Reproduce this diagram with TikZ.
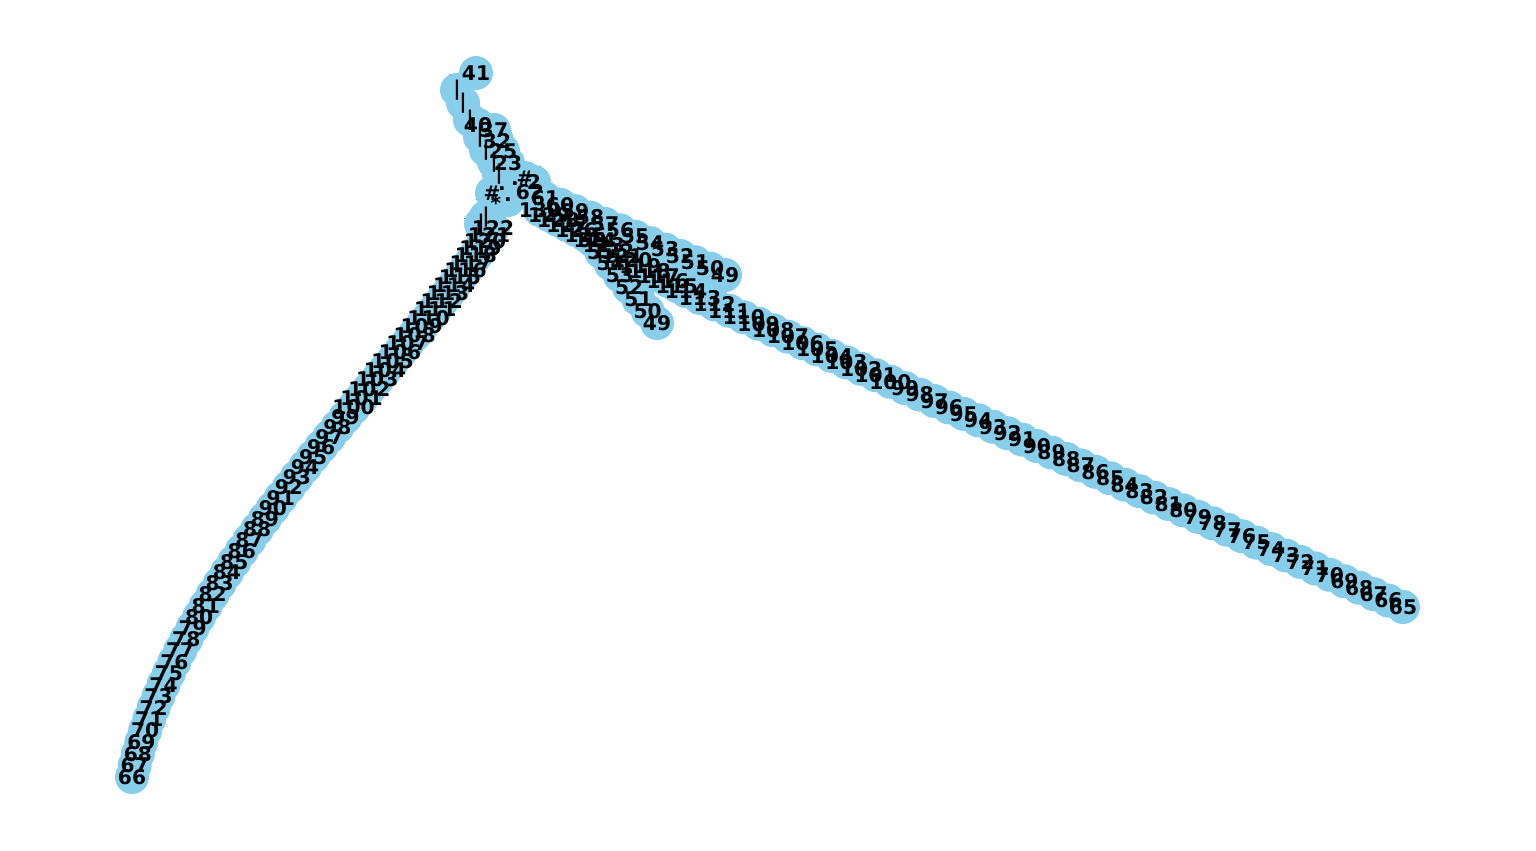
\documentclass[tikz,border=0pt]{standalone}
\usepackage{fontspec}
\setmainfont{DejaVu Sans}
\usetikzlibrary{calc}
\definecolor{skyblue}{HTML}{87CEEB}
\pgfdeclarelayer{bg}\pgfdeclarelayer{fg}
\pgfsetlayers{bg,main,fg}
\tikzset{
 vtx/.style={circle,fill=skyblue,draw=none,minimum size=0.68cm,inner sep=0pt},
 lab/.style={font=\fontsize{11.5}{13}\selectfont\bfseries,inner sep=0pt,text=black},
 edge/.style={draw=black,line width=0.6pt}
}
\begin{document}
\begin{tikzpicture}[x=0.02cm,y=-0.02cm]
\useasboundingbox (0,0) rectangle (1536,850);
% ---------- vertices ----------
% lower-left branch (curved)
\foreach \i in {0,...,56}{
  \pgfmathsetmacro\t{\i/56}
  \pgfmathsetmacro\px{(1-\t)^3*493+3*(1-\t)^2*\t*425+3*(1-\t)*\t^2*180+\t^3*132}
  \pgfmathsetmacro\py{(1-\t)^3*228+3*(1-\t)^2*\t*350+3*(1-\t)*\t^2*560+\t^3*777}
  \node[vtx] (L\i) at (\px,\py) {};
}
% long right branch
\foreach \i in {0,...,48}
  \node[vtx] (R\i) at ($(700,298)!{\i/48}!(1403,607)$) {};
% dense cluster
\foreach \i in {0,...,16}
  \node[vtx] (C\i) at ($(540,210)!{\i/16}!(686,291)$) {};
% branch ending at 49 (upper)
\foreach \i in {0,...,13}
  \node[vtx] (P\i) at ($(530,192)!{\i/13}!(725,275)$) {};
% branch ending at 49 (lower)
\foreach \i in {0,...,7}
  \node[vtx] (Q\i) at ($(592,240)!{\i/7}!(657,323)$) {};
% hub
\foreach \x/\y/\l [count=\i] in {492/193/\#,496/203/*,502/189/.,508/200/.,515/184/.,486/217/|,481/224/|}
  \node[vtx] (H\i) at (\x,\y) {};
% upper branch: bars and numbers
\foreach \x/\y [count=\i] in {457/90,463/103,470/120,480/137,486/150,494/162,499/174}
  \node[vtx] (B\i) at (\x,\y) {};
\foreach \x/\y/\l [count=\i] in {478/125/40,494/130/37,497/141/32,503/151/25,508/163/23,525/178/\#,534/182/2}
  \node[vtx] (N\i) at (\x,\y) {};
\node[vtx] (T) at (476,73) {};
% ---------- edges ----------
\begin{pgfonlayer}{bg}
\foreach \i [evaluate=\i as \j using int(\i+1)] in {0,...,55} \draw[edge] (L\i) -- (L\j);
\foreach \i [evaluate=\i as \j using int(\i+1)] in {0,...,47} \draw[edge] (R\i) -- (R\j);
\foreach \i [evaluate=\i as \j using int(\i+1)] in {0,...,15} \draw[edge] (C\i) -- (C\j);
\foreach \i [evaluate=\i as \j using int(\i+1)] in {0,...,12} \draw[edge] (P\i) -- (P\j);
\foreach \i [evaluate=\i as \j using int(\i+1)] in {0,...,6} \draw[edge] (Q\i) -- (Q\j);
\foreach \i [evaluate=\i as \j using int(\i+1)] in {1,...,6} \draw[edge] (B\i) -- (B\j);
\foreach \i [evaluate=\i as \j using int(\i+1)] in {1,...,6} \draw[edge] (N\i) -- (N\j);
\draw[edge] (T) -- (B1);
\draw[edge] (B7) -- (H1) -- (H2) -- (H6) -- (H7) -- (L0);
\draw[edge] (H1) -- (H3) -- (H5) -- (N7);
\draw[edge] (H2) -- (H4) -- (C0);
\draw[edge] (N7) -- (P0);
\draw[edge] (C4) -- (Q0);
\draw[edge] (C16) -- (R0);
\end{pgfonlayer}
% ---------- labels ----------
\begin{pgfonlayer}{fg}
\foreach \i [evaluate=\i as \l using int(122-\i)] in {0,...,56} \node[lab] (Lt\i) at (L\i) {\l};
\foreach \i [evaluate=\i as \l using int(113-\i)] in {0,...,48} \node[lab] (Rt\i) at (R\i) {\l};
\foreach \i [evaluate=\i as \l using int(130-\i)] in {0,...,16} \node[lab] (Ct\i) at (C\i) {\l};
\foreach \i [evaluate=\i as \l using int(62-\i)] in {0,...,13} \node[lab] (Pt\i) at (P\i) {\l};
\foreach \i [evaluate=\i as \l using int(56-\i)] in {0,...,7} \node[lab] (Qt\i) at (Q\i) {\l};
\foreach \x/\y/\l [count=\i] in {492/193/\#,496/203/*,502/189/.,508/200/.,515/184/.,486/217/|,481/224/|}
  \node[lab] (Ht\i) at (H\i) {\l};
\foreach \i in {1,...,7} \node[lab] (Bt\i) at (B\i) {|};
\foreach \x/\y/\l [count=\i] in {478/125/40,494/130/37,497/141/32,503/151/25,508/163/23,525/178/\#,534/182/2}
  \node[lab] (Nt\i) at (N\i) {\l};
\node[lab] (Tt) at (T) {41};
\end{pgfonlayer}
\end{tikzpicture}
\end{document}
